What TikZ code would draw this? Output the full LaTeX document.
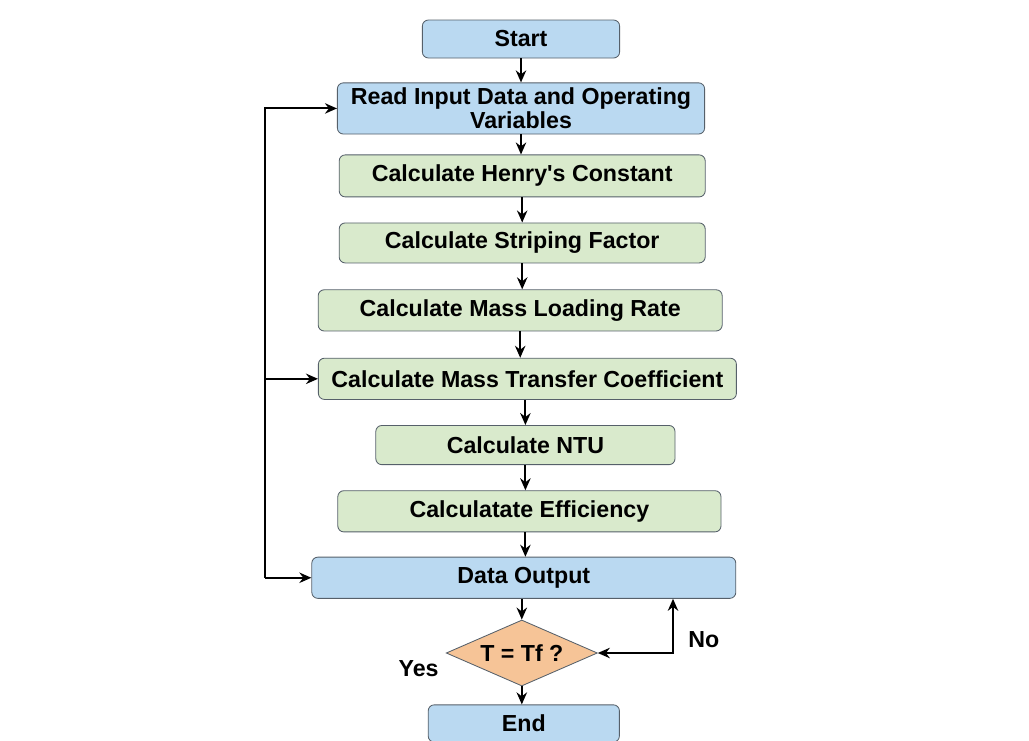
\documentclass[tikz,border=0pt]{standalone}
\usepackage{fontspec}
\newfontfamily\flowfont{Liberation Sans}
\usetikzlibrary{shapes.geometric, arrows.meta, positioning, calc}
\definecolor{flowblue}{HTML}{BAD9F1}
\definecolor{flowgreen}{HTML}{D9EACC}
\definecolor{floworange}{HTML}{F6C497}
\definecolor{flowedge}{HTML}{56606A}

\begin{document}
\begin{tikzpicture}[
    node distance=0.62cm,
    font=\flowfont\fontsize{16.5}{17}\selectfont\bfseries,
    io/.style={rectangle, draw=flowedge, fill=flowblue, semithick, align=center, minimum height=1.03cm, rounded corners=0.15cm},
    calc/.style={rectangle, draw=flowedge, fill=flowgreen, semithick, align=center, minimum height=1.03cm, rounded corners=0.15cm},
    decision/.style={diamond, draw=flowedge, fill=floworange, semithick, aspect=2.3, minimum width=3.78cm, minimum height=1.65cm, inner sep=1pt},
    lbl/.style={inner sep=1pt},
    arrow/.style={-{Stealth[length=3mm, width=2.6mm]}, line width=1.4pt, black}
]
\useasboundingbox (0,0) rectangle (25.725,-18.5);

% Main column
\node[io, minimum width=4.93cm, minimum height=0.95cm] (start) at (13.025,-0.975) {Start};
\node[io, minimum width=9.18cm, minimum height=1.28cm, below=0.6cm of start] (read) {Read Input Data and Operating\\Variables};
\node[calc, minimum width=9.15cm, minimum height=1.05cm, below=0.5cm of read, xshift=0.03cm] (henry) {Calculate Henry's Constant};
\node[calc, minimum width=9.15cm, minimum height=1.0cm, below=0.63cm of henry] (strip) {Calculate Striping Factor};
\node[calc, minimum width=10.1cm, below=0.65cm of strip, xshift=-0.05cm] (load) {Calculate Mass Loading Rate};
\node[calc, minimum width=10.45cm, below=0.66cm of load, xshift=0.18cm] (mtc) {Calculate Mass Transfer Coefficient};
\node[calc, minimum width=7.48cm, minimum height=0.98cm, below=0.63cm of mtc, xshift=-0.05cm] (ntu) {Calculate NTU};
\node[calc, minimum width=9.58cm, below=0.63cm of ntu, xshift=0.1cm] (eff) {Calculatate Efficiency};
\node[io, minimum width=10.6cm, below=0.61cm of eff, xshift=-0.14cm] (outp) {Data Output};
\node[decision, below=0.52cm of outp, xshift=-0.05cm] (test) {T = Tf ?};
\node[io, minimum width=4.78cm, minimum height=0.93cm, below=0.45cm of test, xshift=0.05cm] (fin) {End};

% Labels
\node[lbl] (yes) at ($(test.west)+(-0.68,-0.4)$) {Yes};
\node[lbl] (no) at ($(test.east)+(2.65,0.33)$) {No};

% Edges
\draw[arrow] (start) -- (read);
\draw[arrow] (read) -- (read |- henry.north);
\draw[arrow] (henry) -- (henry |- strip.north);
\draw[arrow] (strip) -- (strip |- load.north);
\draw[arrow] (load) -- (load |- mtc.north);
\draw[arrow] (mtc.south -| ntu) -- (ntu);
\draw[arrow] (ntu) -- (ntu |- eff.north);
\draw[arrow] (eff.south -| ntu) -- (ntu |- outp.north);
\draw[arrow] (outp.south -| test) -- (test);
\draw[arrow] (test) -- (test |- fin.north);

% Loop back
\coordinate (loopx) at (6.625,0);
\coordinate (nox) at (16.825,0);
\draw[arrow] (loopx |- outp.west) -- (loopx |- read.west) -- (read.west);
\draw[arrow] (loopx |- mtc.west) -- (mtc.west);
\draw[arrow] (loopx |- outp.west) -- (outp.west);
\draw[arrow, {Stealth[length=3mm, width=2.6mm]}-{Stealth[length=3mm, width=2.6mm]}] (test.east) -- (nox |- test.east) -- (nox |- outp.south);
\end{tikzpicture}
\end{document}
